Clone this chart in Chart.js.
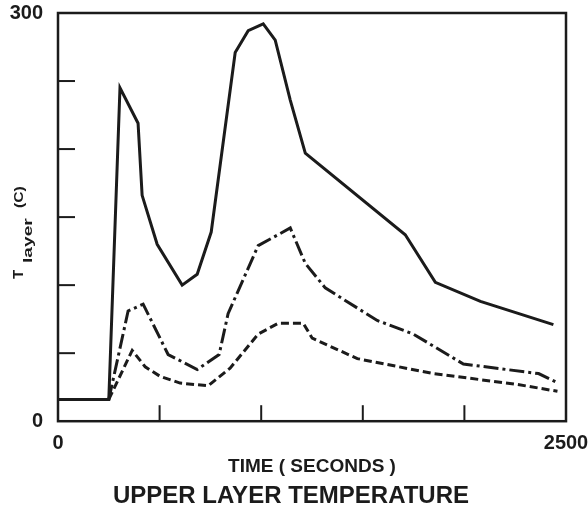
<!DOCTYPE html>
<html>
<head>
<meta charset="utf-8">
<script src="https://cdn.jsdelivr.net/npm/chart.js@4"></script>
<style>
  html, body { margin: 0; padding: 0; background: #fff; }
</style>
</head>
<body>
<canvas id="myChart" width="588" height="514"></canvas>
<script>
// data (time in seconds, temperature in C)
const solidTime = [0, 250, 305, 394, 414, 488, 611, 685, 754, 872, 936, 1010, 1069, 1143, 1217, 1709, 1857, 2079, 2438];
const solidTemp = [16, 16, 245, 219, 166, 130, 100, 108, 139, 271, 287, 292, 280, 236, 197, 137, 102, 88, 71];

const dashDotTime = [250, 345, 419, 542, 685, 793, 837, 985, 1143, 1217, 1315, 1571, 1749, 1995, 2365, 2463];
const dashDotTemp = [16, 81, 86, 49, 38, 49, 79, 129, 142, 116, 98, 74, 64, 42, 35, 28];

const dashTime = [250, 365, 429, 502, 601, 739, 847, 985, 1084, 1207, 1251, 1473, 1847, 2261, 2458];
const dashTemp = [16, 52, 40, 33, 28, 26, 39, 64, 72, 72, 61, 46, 35, 27, 22];

const xTickLabels = [0, 2500];
const yTickLabels = [0, 300];

const ink = '#1b1b1b';
const fontFam = '"Liberation Sans", Arial, sans-serif';
const toPoints = (xs, ys) => xs.map((t, i) => ({ x: t, y: ys[i] }));

// box round the plot and the little inward tick marks
const frameAndTicks = {
  id: 'frameAndTicks',
  afterLayout(chart) {
    // title sits a bit right of the plot centre in the original
    if (chart.titleBlock) { chart.titleBlock.left = 0; chart.titleBlock.right = 582; }
  },
  afterDatasetsDraw(chart) {
    const { ctx, chartArea: a, scales: { x, y } } = chart;
    ctx.save();
    ctx.strokeStyle = ink;
    ctx.lineWidth = 2.5;
    ctx.strokeRect(a.left, a.top, a.right - a.left, a.bottom - a.top);
    ctx.lineWidth = 2;
    y.ticks.forEach(t => {
      if (t.value <= y.min || t.value >= y.max) return;
      const py = y.getPixelForValue(t.value);
      ctx.beginPath(); ctx.moveTo(a.left, py); ctx.lineTo(a.left + 17, py); ctx.stroke();
    });
    x.ticks.forEach(t => {
      if (t.value <= x.min || t.value >= x.max) return;
      const px = x.getPixelForValue(t.value);
      ctx.beginPath(); ctx.moveTo(px, a.bottom); ctx.lineTo(px, a.bottom - 16); ctx.stroke();
    });
    ctx.restore();
  }
};

// y axis title:  T  layer (C)  written bottom to top
const yTitle = {
  id: 'yTitle',
  afterDraw(chart) {
    const c = chart.ctx;
    const piece = (txt, size, bx, by, stretch) => {
      c.save();
      c.translate(bx, by);
      c.rotate(-Math.PI / 2);
      c.scale(stretch, 1);
      c.font = 'bold ' + size + 'px ' + fontFam;
      c.fillStyle = ink;
      c.textAlign = 'left';
      c.textBaseline = 'alphabetic';
      c.fillText(txt, 0, 0);
      c.restore();
    };
    piece('T', 15, 23, 279, 1);
    piece('layer', 12, 32, 263, 1.6);
    piece('(C)', 13, 23, 208, 1.2);
  }
};

const ctx = document.getElementById('myChart').getContext('2d');
const chart = new Chart(ctx, {
  type: 'line',
  data: {
    datasets: [
      {
        data: toPoints(solidTime, solidTemp),
        borderColor: ink,
        borderWidth: 3,
        pointRadius: 0,
        tension: 0
      },
      {
        data: toPoints(dashDotTime, dashDotTemp),
        borderColor: ink,
        borderWidth: 3,
        borderDash: [15, 4, 3, 4],
        pointRadius: 0,
        tension: 0
      },
      {
        data: toPoints(dashTime, dashTemp),
        borderColor: ink,
        borderWidth: 3,
        borderDash: [8, 4],
        pointRadius: 0,
        tension: 0
      }
    ]
  },
  options: {
    responsive: false,
    animation: false,
    layout: { padding: { top: 13, right: 22, left: 0, bottom: 0 } },
    plugins: {
      legend: { display: false },
      tooltip: { enabled: false },
      title: {
        display: true,
        position: 'bottom',
        text: 'UPPER LAYER TEMPERATURE',
        color: ink,
        font: { family: fontFam, size: 24, weight: 'bold' },
        padding: { top: 0, bottom: 3 }
      }
    },
    scales: {
      x: {
        type: 'linear',
        min: 0,
        max: 2500,
        grid: { display: false },
        border: { display: false },
        ticks: {
          stepSize: 500,
          padding: 2,
          color: ink,
          maxRotation: 0,
          font: { family: fontFam, size: 20, weight: 'bold' },
          callback: v => xTickLabels.includes(v) ? v : ''
        },
        title: {
          display: true,
          text: 'TIME ( SECONDS )',
          color: ink,
          font: { family: fontFam, size: 19, weight: 'bold' },
          padding: { top: 0, bottom: 4 }
        },
        afterFit: s => { s.height = 61; s.paddingLeft = 0; s.paddingRight = 0; }
      },
      y: {
        min: 0,
        max: 300,
        grid: { display: false },
        border: { display: false },
        ticks: {
          stepSize: 50,
          padding: 7,
          color: ink,
          font: { family: fontFam, size: 20, weight: 'bold' },
          callback: v => yTickLabels.includes(v) ? v : ''
        },
        afterFit: s => { s.width = 58; s.paddingTop = 0; s.paddingBottom = 0; }
      }
    }
  },
  plugins: [frameAndTicks, yTitle]
});
</script>
</body>
</html>
